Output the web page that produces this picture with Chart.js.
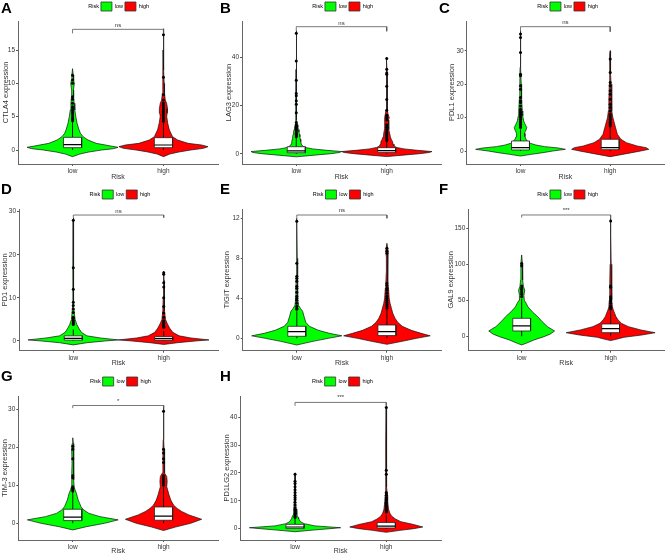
<!DOCTYPE html>
<html><head><meta charset="utf-8">
<script src="https://cdn.jsdelivr.net/npm/chart.js@4/dist/chart.umd.min.js"></script>
<style>
html,body{margin:0;padding:0;background:#fff;}
#wrap{position:relative;width:668px;height:554px;overflow:hidden;background:#fff;}
#wrap canvas{position:absolute;}
.lt{position:absolute;font:bold 15px "Liberation Sans",Arial,sans-serif;line-height:15px;color:#000;z-index:2;}
</style></head><body><div id="wrap"></div>
<script>
// ---------------- DATA ----------------
const categories = ['low', 'high'];
const legendTitle = 'Risk';
const genes = ['CTLA4', 'LAG3', 'PDL1', 'PD1', 'TIGIT', 'GAL9', 'TIM-3', 'PD1LG2'];
const panelLetters = ['A', 'B', 'C', 'D', 'E', 'F', 'G', 'H'];
const sigLabels = ['ns', 'ns', 'ns', 'ns', 'ns', '***', '*', '***'];
const yTicks = [[0,5,10,15],[0,20,40],[0,10,20,30],[0,10,20,30],[0,4,8,12],[0,50,100,150],[0,10,20,30],[0,10,20,30,40]];
const yLimits = [[-2.1,19.35],[-4.27,55.06],[-3.89,38.9],[-2.25,30.6],[-1.24,12.93],[-20,176.8],[-4.4,33.5],[-4.06,47.6]];
const bracketY = [[17.5,18.1],[50.8,52.7],[35.7,37.2],[28.6,29.2],[12.0,12.33],[164.8,168.5],[30.3,31],[44.1,45.3]];
const sigLabelY = [18.7,54,38.4,30.1,12.75,175,32,47];

// violin profiles: [expression value, half width]
const ctla4LowViolin = [[-1.0,0],[-0.6,0.08],[-0.3,0.18],[0,0.32],[0.2,0.45],[0.4,0.5],[0.6,0.42],[1.0,0.26],[1.5,0.17],[2.0,0.116],[2.5,0.087],[3.0,0.072],[4.0,0.05],[5.0,0.036],[6.0,0.025],[7.0,0.018],[8.0,0.012],[9.0,0.01],[10.0,0.02],[10.5,0.012],[11.2,0.008],[12.2,0]];
const ctla4HighViolin = [[-1.0,0],[-0.6,0.07],[-0.3,0.17],[0,0.3],[0.25,0.44],[0.5,0.49],[0.75,0.42],[1.0,0.27],[1.5,0.156],[2.0,0.1],[2.5,0.083],[3.0,0.065],[4.0,0.047],[5.0,0.036],[5.5,0.04],[6.2,0.045],[7.0,0.035],[7.5,0.02],[8.5,0.012],[10,0.008],[12,0.006],[15,0.005],[17.5,0.004],[18.2,0]];
const lag3LowViolin = [[-1.3,0],[-0.6,0.2],[0,0.38],[0.5,0.48],[0.9,0.5],[1.4,0.34],[2.0,0.18],[2.6,0.1],[3.2,0.07],[4,0.055],[5,0.05],[6,0.045],[7,0.04],[8,0.035],[9,0.03],[10,0.025],[11,0.018],[12,0.012],[14,0.007],[18,0.005],[25,0.004],[35,0.003],[45,0.002],[51,0]];
const lag3HighViolin = [[-1.2,0],[-0.6,0.18],[0,0.36],[0.5,0.47],[0.9,0.5],[1.4,0.34],[2.0,0.19],[2.6,0.11],[3.2,0.08],[4,0.07],[5,0.065],[6,0.05],[7,0.04],[8,0.035],[10,0.025],[12,0.02],[14,0.02],[15,0.028],[16,0.018],[18,0.008],[22,0.006],[28,0.005],[34,0.004],[38,0.002],[40,0]];
const pdl1LowViolin = [[-1.5,0],[-1.0,0.12],[-0.5,0.25],[0,0.36],[0.5,0.5],[0.9,0.42],[1.3,0.27],[1.8,0.17],[2.3,0.11],[3.3,0.065],[4.3,0.05],[5.3,0.044],[6.2,0.06],[7,0.07],[7.8,0.055],[9,0.035],[10.5,0.025],[12,0.02],[16,0.012],[20,0.008],[25,0.005],[30,0.004],[35,0.003],[36,0]];
const pdl1HighViolin = [[-1.7,0],[-1.1,0.12],[-0.5,0.24],[0,0.34],[0.5,0.43],[1.0,0.4],[1.5,0.3],[2.5,0.18],[3.5,0.12],[5,0.08],[7,0.06],[9,0.04],[10,0.03],[12,0.02],[15,0.015],[20,0.01],[23,0.008],[27,0.005],[29,0.003],[30,0]];
const pd1LowViolin = [[-0.9,0],[-0.4,0.15],[0,0.35],[0.25,0.5],[0.7,0.3],[1.2,0.15],[2,0.09],[3,0.06],[3.8,0.04],[5,0.02],[8,0.008],[12,0.005],[17,0.004],[28,0.002],[28.6,0]];
const pd1HighViolin = [[-0.8,0],[-0.4,0.15],[0,0.35],[0.25,0.5],[0.7,0.3],[1.2,0.17],[2,0.1],[3,0.065],[4,0.04],[5,0.02],[7,0.01],[10,0.006],[14,0.004],[16.2,0]];
const tigitLowViolin = [[-0.67,0],[-0.3,0.18],[0,0.35],[0.25,0.5],[0.5,0.36],[0.8,0.24],[1.2,0.14],[1.6,0.1],[2.2,0.08],[2.7,0.065],[3.0,0.04],[3.3,0.02],[4,0.012],[5,0.01],[6,0.007],[8,0.005],[11.7,0.002],[12,0]];
const tigitHighViolin = [[-0.6,0],[-0.3,0.17],[0,0.33],[0.25,0.48],[0.5,0.38],[0.8,0.27],[1.2,0.17],[1.6,0.12],[2.0,0.09],[2.5,0.065],[3,0.05],[3.5,0.035],[4,0.025],[5,0.018],[5.5,0.012],[6.5,0.008],[8.0,0.006],[8.8,0.012],[9.5,0]];
const gal9LowViolin = [[-12,0],[-9.7,0.05],[-5,0.14],[-0.5,0.25],[3,0.32],[7.4,0.37],[13.4,0.29],[20.4,0.23],[27.3,0.18],[34,0.12],[41,0.07],[46,0.05],[50,0.03],[57,0.025],[64,0.035],[69,0.02],[78,0.012],[92,0.01],[101,0.008],[113,0]];
const gal9HighViolin = [[-6,0],[-3,0.1],[-1.4,0.15],[1.8,0.35],[5,0.5],[8.8,0.34],[13.4,0.2],[18,0.12],[22.7,0.085],[27.3,0.06],[32,0.045],[36.6,0.03],[41,0.02],[50,0.015],[70,0.01],[100,0.006],[140,0.004],[164,0]];
const tim3LowViolin = [[-1.75,0],[-0.9,0.15],[0,0.35],[0.9,0.5],[1.75,0.3],[2.6,0.18],[3.5,0.12],[4.4,0.09],[5.3,0.075],[6.1,0.06],[7,0.05],[7.9,0.04],[8.8,0.025],[9.6,0.015],[11.4,0.012],[13.2,0.01],[15.8,0.008],[19.3,0.012],[20.5,0.01],[21,0.006],[22.5,0]];
const tim3HighViolin = [[-1.9,0],[-1,0.13],[0,0.3],[1.05,0.42],[2.2,0.28],[3.1,0.2],[3.9,0.15],[4.8,0.11],[6.1,0.08],[7.5,0.06],[8.8,0.045],[9.6,0.035],[11,0.04],[12.3,0.035],[13.2,0.015],[15.8,0.008],[19.3,0.006],[22,0.004],[31,0]];
const pd1lg2LowViolin = [[-1.1,0],[-0.5,0.2],[0,0.38],[0.35,0.5],[1.0,0.22],[1.8,0.1],[2.5,0.06],[3.5,0.04],[4,0.035],[5,0.02],[7,0.012],[10,0.008],[15,0.006],[19.8,0.003],[20,0]];
const pd1lg2HighViolin = [[-1.3,0],[-0.6,0.15],[0,0.3],[0.6,0.4],[1.5,0.3],[2.5,0.16],[3.5,0.1],[4.5,0.06],[5.5,0.04],[7,0.025],[10,0.015],[12,0.012],[15,0.008],[21,0.006],[30,0.004],[43,0.002],[44,0]];

// box statistics per group: [lower whisker, Q1, median, Q3, upper whisker]
const ctla4Box = [[0,0.35,0.8,1.9,4.2],[0,0.35,0.75,1.85,4.1]];
const lag3Box = [[0,0.4,1.2,2.9,6.6],[0,0.55,1.25,2.5,5.4]];
const pdl1Box = [[0,0.3,1.0,3.0,6.5],[0,0.4,1.0,3.5,7.2]];
const pd1Box = [[0,0.2,0.6,1.2,2.7],[0,0.15,0.55,1.0,2.3]];
const tigitBox = [[0,0.2,0.67,1.2,2.7],[0,0.27,0.67,1.33,2.9]];
const gal9Box = [[0,7.4,14.4,25,52],[0,5.1,10.6,17.1,35]];
const tim3Box = [[0,0.7,1.6,3.7,8.2],[0,0.8,1.9,4.3,9.5]];
const pd1lg2Box = [[0,0.1,0.6,1.55,3.7],[0,0.25,0.95,2.2,5.0]];

// outliers per group: [low, high]
const ctla4Out = [[4.4,4.6,4.8,5.0,5.3,5.6,5.9,6.2,6.5,7.0,7.6,8.0,10.0,10.5,11.2],[4.3,4.5,4.8,5.1,5.4,5.6,5.8,6.0,6.2,6.4,6.7,7.0,7.5,8.3,10.9,17.3]];
const lag3Out = [[7,7.5,8,8.5,9,9.5,10,10.5,11,11.5,12,13,17,20.5,22,24,25,30.5,38.5,50],[5.5,6,6.5,7,7.5,8,8.5,9,10,11,12,14,15,16,18,22.5,28,33,33.5,35,39.5]];
const pdl1Out = [[7,7.5,8,8.5,9,9.5,10,10.5,11,11.5,12,12.5,13.5,14.5,15,16,18.5,19.5,22.5,23,29.5,34,35],[7.5,8,8.5,9,9.5,10,10.5,11,12,13,14,15.5,17,18,19.5,20.5,23.5,27.5]];
const pd1Out = [[3.8,4.0,4.2,4.4,4.8,5.2,5.5,6.6,7.4,8.2,9,12,17,28],[3.2,3.4,3.7,4.0,4.3,4.7,5.5,6.5,8,10,12.5,13.5,15.5,15.8]];
const tigitOut = [[2.9,3.0,3.2,3.5,3.8,4.0,4.2,4.6,5.0,5.2,5.7,6.0,6.2,7.5,11.7],[3.0,3.2,3.4,3.6,3.8,4.0,4.2,4.5,4.8,5.0,5.3,5.5,8.5,8.7,9.0]];
const gal9Out = [[55,58,60,63,65,67,70,98,101],[38,40,42,46,49,52,55,68,70,160]];
const tim3Out = [[8.5,8.8,9.2,9.6,12,12.5,17,19.5,20.3],[10,10.5,11,11.5,12,12.5,16,17,18.5,19.5,29.5]];
const pd1lg2Out = [[4,4.5,5,5.5,6,6.5,7,7.5,8.5,9.5,10.5,11.2,12,13,14,15,16.2,17,19.5],[6,6.5,7,7.5,8,8.5,9,9.5,10,10.5,11,12,12.5,13,19.5,21,43.5]];

// tables built from the arrays above
const violins = [[ctla4LowViolin,ctla4HighViolin],[lag3LowViolin,lag3HighViolin],[pdl1LowViolin,pdl1HighViolin],[pd1LowViolin,pd1HighViolin],[tigitLowViolin,tigitHighViolin],[gal9LowViolin,gal9HighViolin],[tim3LowViolin,tim3HighViolin],[pd1lg2LowViolin,pd1lg2HighViolin]];
const boxes = [ctla4Box,lag3Box,pdl1Box,pd1Box,tigitBox,gal9Box,tim3Box,pd1lg2Box];
const outliers = [ctla4Out,lag3Out,pdl1Out,pd1Out,tigitOut,gal9Out,tim3Out,pd1lg2Out];

// ---------------- LAYOUT / STYLE ----------------
const family = '"Liberation Sans", Arial, Helvetica, sans-serif';
const riskColors = ['#00FF00', '#FF0000'];
const tickFont = 6.5, yTitleFont = 7.5, xTitleFont = 7;
const colLeft = [0, 222, 445], colWidth = [222, 223, 223];
const rowTop = [0, 188, 375], rowHeight = [182, 180, 179];
const rowPlotBottom = [164, 162.7, 165], rowTitleY = [177.5, 175.3, 176.5];
const letterTop = [0, 181, 368], letterLeft = [1, 220, 439];
const panelLayout = [
  {col:0,row:0,axisX:18,right:219.5,legendC:111.8,titleX:6},
  {col:1,row:0,axisX:20,right:221.7,legendC:113.8,titleX:6.7},
  {col:2,row:0,axisX:21.7,right:223,legendC:115.8,titleX:6.7},
  {col:0,row:1,axisX:19,right:220,legendC:113.1,titleX:5},
  {col:1,row:1,axisX:20.7,right:222,legendC:114.3,titleX:5},
  {col:2,row:1,axisX:23.3,right:223,legendC:115.8,titleX:6},
  {col:0,row:2,axisX:18.3,right:220,legendC:113.5,titleX:4.5},
  {col:1,row:2,axisX:18.3,right:220,legendC:113.5,titleX:4.5}
];
const BOX_HALF = 0.1;

const sigPlugin = {
  id: 'sigText',
  afterDatasetsDraw(chart, args, opts) {
    const {ctx, scales} = chart;
    ctx.save();
    ctx.font = '6px ' + family;
    ctx.fillStyle = '#333';
    ctx.textAlign = 'center';
    ctx.textBaseline = 'middle';
    ctx.fillText(opts.text, scales.x.getPixelForValue(1.5), scales.y.getPixelForValue(opts.value));
    ctx.restore();
  }
};

function violinPolygon(profile, center) {
  const left = profile.map(([v, w]) => ({x: center - w, y: v}));
  const right = profile.slice().reverse().map(([v, w]) => ({x: center + w, y: v}));
  return left.concat(right);
}

const wrap = document.getElementById('wrap');

panelLayout.forEach((L, i) => {
  const W = colWidth[L.col], H = rowHeight[L.row];
  const cv = document.createElement('canvas');
  cv.width = W; cv.height = H;
  cv.style.left = colLeft[L.col] + 'px';
  cv.style.top = rowTop[L.row] + 'px';
  wrap.appendChild(cv);

  const lt = document.createElement('div');
  lt.className = 'lt';
  lt.textContent = panelLetters[i];
  lt.style.left = letterLeft[L.col] + 'px';
  lt.style.top = letterTop[L.row] + 'px';
  wrap.appendChild(lt);

  const padL = 2 * L.legendC - L.right;
  const padR = W - L.right;
  const yW = L.axisX - padL;
  const xH = H - rowPlotBottom[L.row];
  const xTitlePB = H - rowTitleY[L.row] - xTitleFont * 0.6;
  const yTitlePT = L.titleX - padL - yTitleFont * 0.6;

  const datasets = [];
  const gap = {x: 1.5, y: null};
  const [bLow, bTop] = bracketY[i];
  datasets.push({data: [{x:1,y:bLow},{x:1,y:bTop},{x:2,y:bTop},{x:2,y:bLow}], borderColor:'#555', borderWidth:0.8, pointRadius:0, fill:false, order:0});
  const outPts = [];
  outliers[i].forEach((arr, g) => arr.forEach(v => outPts.push({x: g + 1, y: v})));
  datasets.push({data: outPts, showLine:false, pointRadius:1.5, pointBackgroundColor:'#000', pointBorderWidth:0, order:1});
  const medPts = [];
  boxes[i].forEach((b, g) => { const c = g + 1; medPts.push({x:c-BOX_HALF,y:b[2]},{x:c+BOX_HALF,y:b[2]}, gap); });
  datasets.push({data: medPts, borderColor:'#000', borderWidth:1.2, pointRadius:0, fill:false, order:2});
  boxes[i].forEach((b, g) => {
    const c = g + 1;
    datasets.push({data: [{x:c-BOX_HALF,y:b[1]},{x:c-BOX_HALF,y:b[3]},{x:c+BOX_HALF,y:b[3]},{x:c+BOX_HALF,y:b[1]},{x:c-BOX_HALF,y:b[1]}],
      borderColor:'#222', borderWidth:0.8, backgroundColor:'#fff', fill:'shape', pointRadius:0, order:3});
  });
  const whPts = [];
  boxes[i].forEach((b, g) => { const c = g + 1; whPts.push({x:c,y:b[0]},{x:c,y:b[1]},gap,{x:c,y:b[3]},{x:c,y:b[4]},gap); });
  datasets.push({data: whPts, borderColor:'#000', borderWidth:0.9, pointRadius:0, fill:false, order:4});
  violins[i].forEach((prof, g) => {
    datasets.push({label: categories[g], data: violinPolygon(prof, g + 1), borderColor:'#111', borderWidth:0.7,
      backgroundColor: riskColors[g], fill:'shape', pointRadius:0, borderJoinStyle:'round', order:5});
  });

  new Chart(cv, {
    type: 'line',
    data: {datasets},
    options: {
      responsive: false, animation: false, devicePixelRatio: 1, events: [],
      layout: {padding: {left: padL, right: padR, top: 0, bottom: 0}},
      plugins: {
        tooltip: {enabled: false},
        legend: {
          display: true, position: 'top', align: 'center', fullSize: true,
          labels: {
            boxWidth: 11, boxHeight: 9, padding: 2, color: '#333',
            font: {size: 5.5, family},
            generateLabels: () => [
              {text: legendTitle, fillStyle: 'rgba(0,0,0,0)', strokeStyle: 'rgba(0,0,0,0)', lineWidth: 0, hidden: false, datasetIndex: 0},
              {text: categories[0], fillStyle: riskColors[0], strokeStyle: '#333', lineWidth: 0.8, hidden: false, datasetIndex: 0},
              {text: categories[1], fillStyle: riskColors[1], strokeStyle: '#333', lineWidth: 0.8, hidden: false, datasetIndex: 1}
            ]
          }
        },
        sigText: {text: sigLabels[i], value: sigLabelY[i]}
      },
      scales: {
        x: {
          type: 'linear', min: 0.4, max: 2.6, offset: false,
          afterBuildTicks: s => { s.ticks = categories.map((c, k) => ({value: k + 1})); },
          afterFit: s => { s.height = xH; },
          ticks: {callback: v => categories[v - 1], font: {size: tickFont, family}, color: '#333', padding: 1.5, maxRotation: 0, autoSkip: false},
          grid: {display: true, drawOnChartArea: false, drawTicks: true, tickLength: 2, tickColor: '#555'},
          border: {display: true, color: '#666', width: 1},
          title: {display: true, text: legendTitle, font: {size: xTitleFont, family}, color: '#333', padding: {top: 0, bottom: xTitlePB}}
        },
        y: {
          type: 'linear', min: yLimits[i][0], max: yLimits[i][1],
          afterBuildTicks: s => { s.ticks = yTicks[i].map(v => ({value: v})); },
          afterFit: s => { s.width = yW; },
          ticks: {font: {size: tickFont, family}, color: '#333', padding: 1},
          grid: {display: true, drawOnChartArea: false, drawTicks: true, tickLength: 2, tickColor: '#555'},
          border: {display: true, color: '#666', width: 1},
          title: {display: true, text: genes[i] + ' expression', font: {size: yTitleFont, family}, color: '#333', padding: {top: yTitlePT, bottom: 0}}
        }
      }
    },
    plugins: [sigPlugin]
  });
});
</script></body></html>
